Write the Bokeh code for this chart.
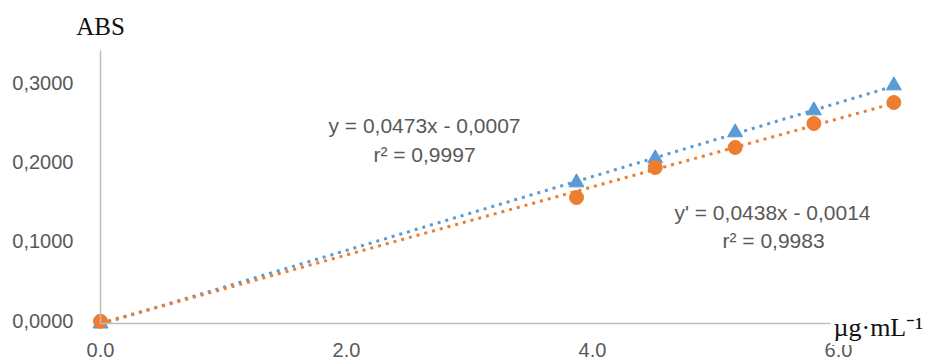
import numpy as np
from bokeh.plotting import figure
from bokeh.models import Range1d, FixedTicker, CustomJSTickFormatter, Label
from bokeh.embed import file_html
from bokeh.resources import INLINE

# ---- data ----
conc = [0.0, 3.87, 4.51, 5.16, 5.80, 6.45]
abs_blue = [-0.004, 0.1740, 0.2043, 0.2371, 0.2648, 0.2963]
abs_orange = [-0.001, 0.1551, 0.1929, 0.2182, 0.2484, 0.2749]
x_ticks = [0, 2, 4, 6]
y_ticks = [0.0, 0.1, 0.2, 0.3]
eq_blue = ["y = 0,0473x - 0,0007", "r² = 0,9997"]
eq_orange = ["y' = 0,0438x - 0,0014", "r² = 0,9983"]
x_unit = "µg·mL⁻¹"
y_unit = "ABS"

BLUE = "#5B9BD5"
ORANGE = "#ED7D31"
GREY = "#595959"
AXIS = "#BFBFBF"
SANS = "Liberation Sans"
SERIF = "Liberation Serif"

# frame covers the whole canvas; axes are placed at fixed data locations
p = figure(width=929, height=360, output_backend="svg", toolbar_location=None,
           x_range=Range1d(-0.8130, 6.7398), y_range=Range1d(-0.05044, 0.40353),
           min_border_left=0, min_border_right=0, min_border_top=0,
           min_border_bottom=0)
p.grid.visible = False
p.outline_line_color = None
p.background_fill_color = "white"
p.border_fill_color = "white"

xa = p.xaxis[0]
xa.fixed_location = -0.0038
xa.bounds = (0, 6.3)
xa.ticker = FixedTicker(ticks=x_ticks)
xa.formatter = CustomJSTickFormatter(code="return tick.toFixed(1);")
xa.major_label_standoff = 13
ya = p.yaxis[0]
ya.fixed_location = 0
ya.bounds = (-0.0038, 0.34)
ya.ticker = FixedTicker(ticks=y_ticks)
ya.formatter = CustomJSTickFormatter(code="return tick.toFixed(4).replace('.', ',');")
ya.major_label_standoff = 21
for ax in (xa, ya):
    ax.axis_line_color = AXIS
    ax.axis_line_width = 1.5
    ax.major_tick_line_color = None
    ax.minor_tick_line_color = None
    ax.major_label_text_font = SANS
    ax.major_label_text_font_size = "20px"
    ax.major_label_text_color = GREY

# trendlines (least squares on the data, like the spreadsheet trendline)
xs = [0.0, max(conc)]
fb = np.polyfit(conc, abs_blue, 1)
fo = np.polyfit(conc, abs_orange, 1)
p.line(xs, list(np.polyval(fb, xs)), line_color=BLUE, line_width=3, line_dash="3 5")
p.line(xs, list(np.polyval(fo, xs)), line_color=ORANGE, line_width=3, line_dash="3 5")

p.scatter(conc, abs_blue, marker="triangle", size=15, color=BLUE)
p.scatter(conc, abs_orange, marker="circle", size=14, color=ORANGE)

def lab(x, y, text, size="21px", font=SANS, color=GREY, align="center",
        baseline="middle", **kw):
    p.add_layout(Label(x=x, y=y, text=text, text_font=font, text_font_size=size,
                       text_color=color, text_align=align, text_baseline=baseline, **kw))

lab(2.634, 0.2459, eq_blue[0])
lab(2.634, 0.2093, eq_blue[1])
lab(5.463, 0.1362, eq_orange[0])
lab(5.472, 0.1009, eq_orange[1])
lab(0.0, 0.3707, y_unit, size="25px", font=SERIF, color="#111111")
lab(5.935, -0.0088, x_unit, size="26px", font=SERIF, color="#111111",
    align="left", baseline="alphabetic", background_fill_color="white", padding=3)

open("out.html", "w").write(file_html(p, INLINE))
